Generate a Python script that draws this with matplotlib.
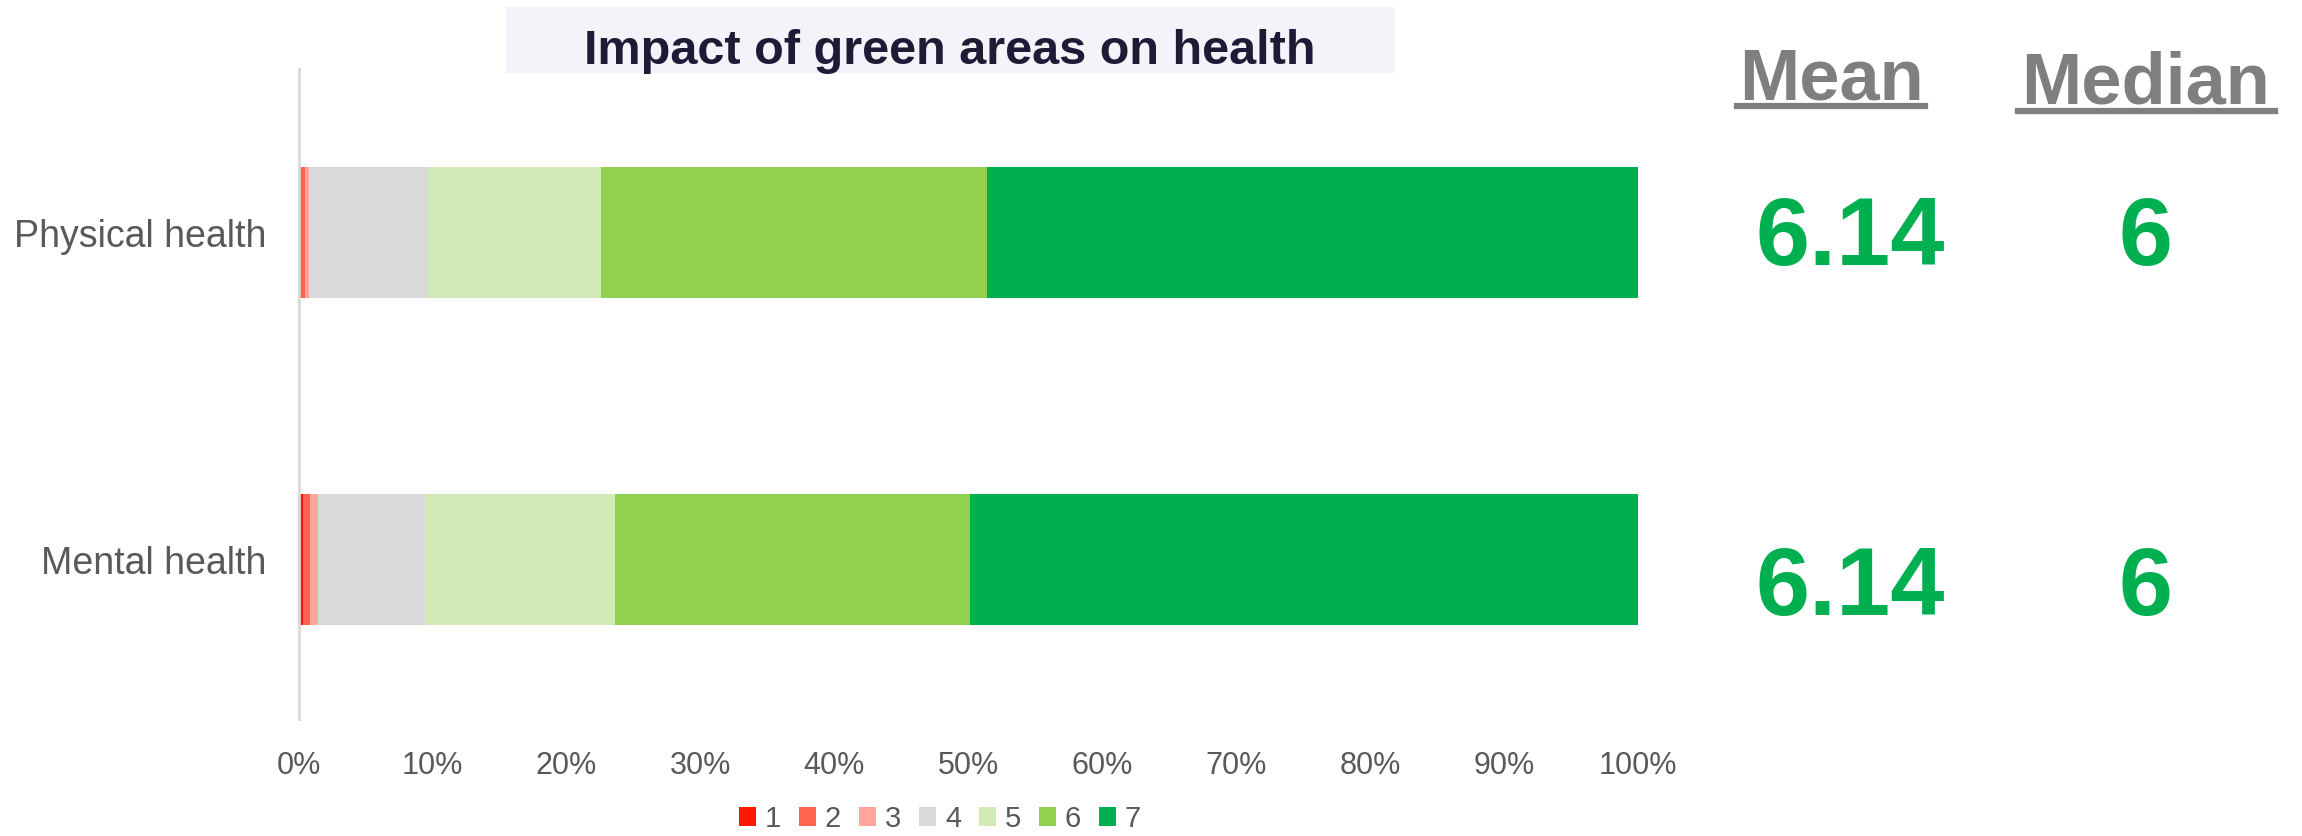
import matplotlib
matplotlib.use('Agg')
import matplotlib.pyplot as plt
from matplotlib.patches import Rectangle
from matplotlib.lines import Line2D
import numpy as np

plt.rcParams['font.family'] = ['Liberation Sans', 'DejaVu Sans']

categories = ['Physical health', 'Mental health']
levels = ['1', '2', '3', '4', '5', '6', '7']
# share of answers (%) per level, for each category
physical = [0.2, 0.3, 0.25, 8.9, 12.95, 28.8, 48.6]
mental = [0.3, 0.57, 0.6, 7.98, 14.15, 26.5, 49.9]
means = ['6.14', '6.14']
medians = ['6', '6']
colors = ['#ff1800', '#ff6450', '#ffa59b', '#d9d9d9', '#d2ebb6', '#92d050', '#00b050']

W, H = 2302, 836
fig = plt.figure(figsize=(W / 100, H / 100), dpi=100)
ax = fig.add_axes([298.5 / W, 1 - 719 / H, (1638.3 - 298.5) / W, 650 / H])

data = np.array([physical, mental]) / 100.0
ys = np.arange(len(categories))
left = np.zeros(len(categories))
for j, lev in enumerate(levels):
    ax.barh(ys, data[:, j], left=left, height=0.4, color=colors[j],
            linewidth=0, label=lev)
    left += data[:, j]

ax.set_xlim(0, 1)
ax.set_ylim(1.486, -0.5)
ax.set_yticks(ys)
ax.set_yticklabels(categories, fontsize=27, color='#595959')
ax.set_xticks(np.arange(0, 1.01, 0.1))
ax.set_xticklabels([f'{int(round(v * 100))}%' for v in np.arange(0, 1.01, 0.1)],
                   fontsize=22, color='#595959')
ax.tick_params(axis='both', length=0)
ax.tick_params(axis='y', pad=23)
ax.tick_params(axis='x', pad=23)
for s in ['top', 'right', 'bottom']:
    ax.spines[s].set_visible(False)
ax.spines['left'].set_color('#d9d9d9')
ax.spines['left'].set_linewidth(2)

leg = fig.legend(loc='center', bbox_to_anchor=(940 / W, 1 - 819 / H), ncol=7,
                 frameon=False, fontsize=21, handlelength=0.6, handleheight=0.6,
                 handletextpad=0.3, columnspacing=0.6, borderaxespad=0)
for t in leg.get_texts():
    t.set_color('#595959')

# title box
fig.patches.append(Rectangle((506 / W, 1 - 73 / H), (1395 - 506) / W, 66 / H,
                             transform=fig.transFigure, facecolor='#f4f3f9',
                             edgecolor='none'))
fig.text(950 / W, 1 - 51 / H, 'Impact of green areas on health', ha='center',
         va='center', fontsize=35, fontweight='bold', color='#1f1a35')

# Mean / Median headers
fig.text(1831 / W, 1 - 100 / H, 'Mean', ha='center', va='baseline', fontsize=52,
         fontweight='bold', color='#7f7f7f')
fig.text(2146 / W, 1 - 104 / H, 'Median', ha='center', va='baseline', fontsize=52,
         fontweight='bold', color='#7f7f7f')
fig.lines.append(Line2D([1737 / W, 1925 / W], [1 - 106 / H, 1 - 106 / H],
                        transform=fig.transFigure, color='#7f7f7f', linewidth=4.5))
fig.lines.append(Line2D([2018 / W, 2275 / W], [1 - 111 / H, 1 - 111 / H],
                        transform=fig.transFigure, color='#7f7f7f', linewidth=4.5))

row_y = [1 - 240 / H, 1 - 590 / H]
for i in range(len(categories)):
    fig.text(1850 / W, row_y[i], means[i], ha='center', va='center', fontsize=70,
             fontweight='bold', color='#00b050')
    fig.text(2146 / W, row_y[i], medians[i], ha='center', va='center', fontsize=70,
             fontweight='bold', color='#00b050')

fig.savefig('out.png', dpi=100)
